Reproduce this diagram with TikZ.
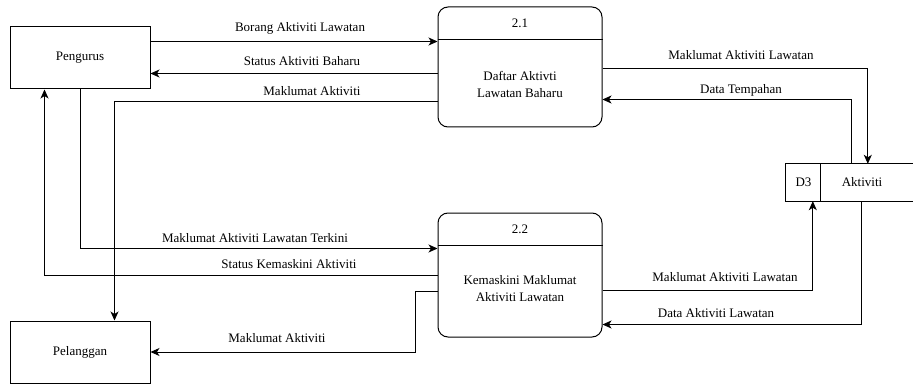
\documentclass[tikz,border=0pt]{standalone}
\usepackage{fontspec}
\newfontfamily\dfdfam{LiberationSerif-Regular.ttf}
\usetikzlibrary{arrows.meta,calc}
\newcommand\dfdfont{\dfdfam\fontsize{13}{17}\selectfont}
\begin{document}
\begin{tikzpicture}[x=1pt,y=-1pt,
  ent/.style={draw,line width=1pt,minimum width=140pt,minimum height=62pt,inner sep=0pt,font=\dfdfont},
  proc/.style={draw,line width=1pt,rounded corners=10pt,minimum width=164pt,inner sep=0pt},
  flow/.style={line width=1pt,-{Stealth[length=9pt,width=8pt,inset=2.5pt]}},
  plain/.style={line width=1pt},
  lbl/.style={font=\dfdfont,inner sep=0pt,align=center}]
\useasboundingbox[fill=white] (0,0) rectangle (913,385);
% external entities
\node[ent] (peng) at (80,58) {Pengurus};
\node[ent] (pel) at (80,352) {Pelanggan};
% processes
\node[proc,minimum height=120pt] (p21) at (520,67) {};
\draw[plain] ($(p21.north west)+(0,33)$) -- ($(p21.north east)+(0,33)$);
\node[lbl] (p21n) at (520,23.5) {2.1};
\node[lbl] (p21t) at (520,84) {Daftar Aktivti\\Lawatan Baharu};
\node[proc,minimum height=124pt] (p22) at (520,275) {};
\draw[plain] ($(p22.north west)+(0,33)$) -- ($(p22.north east)+(0,33)$);
\node[lbl] (p22n) at (520,229.5) {2.2};
\node[lbl] (p22t) at (520,289) {Kemaskini Maklumat\\Aktiviti Lawatan};
% data store
\node[inner sep=0pt,minimum width=127pt,minimum height=37pt] (d3) at (849.5,182.5) {};
\draw[plain] (d3.north east) -- (d3.north west) -- (d3.south west) -- (d3.south east);
\draw[plain] ($(d3.north west)+(35,0)$) -- ($(d3.south west)+(35,0)$);
\node[lbl] (d3n) at (803.5,182.5) {D3};
\node[lbl] (d3t) at (862,182.5) {Aktiviti};
% flows
\draw[flow] ($(peng.north east)+(0,15)$) -- ($(p21.north west)+(0,35)$);
\draw[flow] ($(p21.north west)+(0,67)$) -- ($(peng.north east)+(0,47)$);
\draw[flow] ($(p21.north west)+(0,95)$) -| ($(pel.north west)+(105,0)$);
\draw[flow] (peng.south) |- ($(p22.north west)+(0,36)$);
\draw[flow] ($(p22.north west)+(0,63)$) -| ($(peng.south west)+(35,0)$);
\draw[flow] ($(p22.north west)+(0,79)$) -- ++(-22,0) |- (pel.east);
\draw[flow] ($(p21.north east)+(0,62)$) -| ($(d3.north west)+(82,0)$);
\draw[flow] ($(d3.north west)+(66,0)$) |- ($(p21.north east)+(0,93)$);
\draw[flow] ($(p22.north east)+(0,78)$) -| ($(d3.south west)+(27,0)$);
\draw[flow] ($(d3.south west)+(76,0)$) |- ($(p22.north east)+(0,112)$);
% labels
\node[lbl] (l1) at (300,28) {Borang Aktiviti Lawatan};
\node[lbl] (l2) at (302,61) {Status Aktiviti Baharu};
\node[lbl] (l3) at (312,91) {Maklumat Aktiviti};
\node[lbl] (l4) at (741,55) {Maklumat Aktiviti Lawatan};
\node[lbl] (l5) at (741,90) {Data Tempahan};
\node[lbl] (l6) at (255,238) {Maklumat Aktiviti Lawatan Terkini};
\node[lbl] (l7) at (289,264) {Status Kemaskini Aktiviti};
\node[lbl] (l8) at (277,338) {Maklumat Aktiviti};
\node[lbl] (l9) at (725,277) {Maklumat Aktiviti Lawatan};
\node[lbl] (l10) at (716,313) {Data Aktiviti Lawatan};
\end{tikzpicture}
\end{document}
